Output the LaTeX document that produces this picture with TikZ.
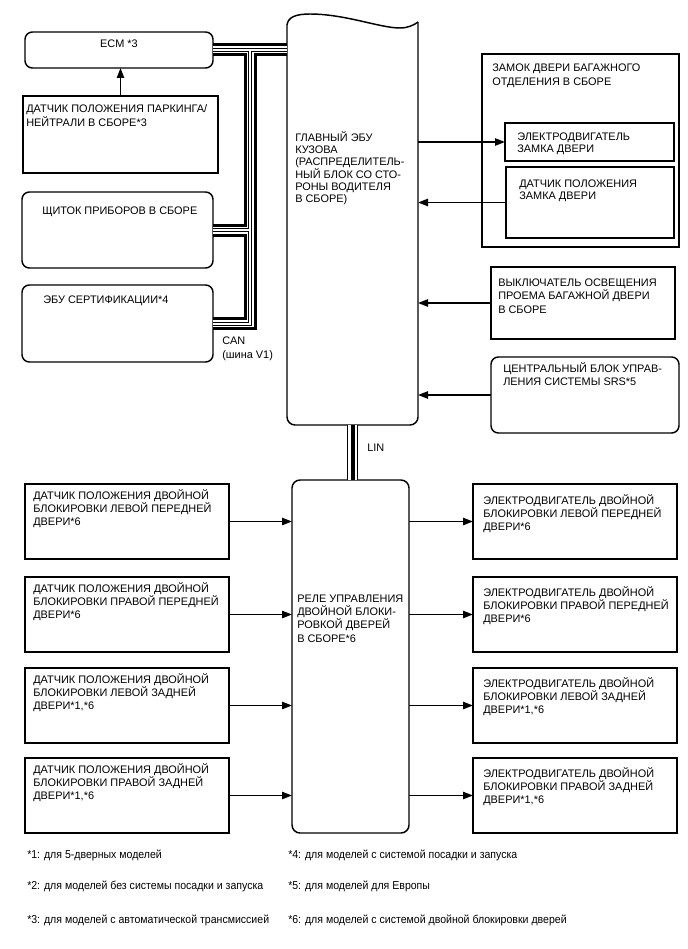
\documentclass[tikz,border=0pt]{standalone}
\usepackage{fontspec}
\setmainfont{Liberation Sans}
\newfontfamily\notefont[FakeStretch=0.92]{Liberation Sans}
\usetikzlibrary{arrows.meta,fit}
\newcommand\ml[2][10]{\parbox[t]{6cm}{\fontsize{8.2}{#1}\selectfont\raggedright #2}}
\begin{document}
\begin{tikzpicture}[x=0.75pt,y=-0.75pt,
  bx/.style={draw, line width=1.1pt, inner sep=0pt, outer sep=0pt},
  rbx/.style={bx, rounded corners=5.5pt},
  arr/.style={line width=1.1pt, -{Triangle[length=7.5pt,width=5.5pt]}},
  txt/.style={anchor=base west, inner sep=0pt, font=\fontsize{8.2}{10}\selectfont},
  note/.style={anchor=base west, inner sep=0pt, font=\notefont\fontsize{8.6}{10}\selectfont},
]
\useasboundingbox (0,0) rectangle (688,949);

% boxes
\node[rbx, fit={(25,32)(213,68)}] (ecm) {};
\node[bx, fit={(23,96)(218,173)}] (park) {};
\node[rbx, fit={(22,192)(213,268)}] (clu) {};
\node[rbx, fit={(22,285)(213,362)}] (cert) {};
\node[inner sep=0pt, outer sep=0pt, fit={(287,20)(418,425)}] (bcm) {};
\node[bx, fit={(482,54)(679,247)}] (trunk) {};
\node[bx, fit={(505,123)(674,161)}] (motor) {};
\node[bx, fit={(506,167)(674,238)}] (lsens) {};
\node[bx, fit={(491,267)(675,339)}] (sw) {};
\node[rbx, fit={(491,357)(679,433)}] (srs) {};
\node[rbx, rounded corners=6pt, fit={(292,480)(409,833)}] (relay) {};
\node[bx, fit={(25,484)(229,559)}] (l1) {};
\node[bx, fit={(25,577)(229,652)}] (l2) {};
\node[bx, fit={(25,668)(229,743)}] (l3) {};
\node[bx, fit={(25,758)(229,833)}] (l4) {};
\node[bx, fit={(473,484)(677,559)}] (r1) {};
\node[bx, fit={(473,577)(677,652)}] (r2) {};
\node[bx, fit={(473,668)(677,743)}] (r3) {};
\node[bx, fit={(473,758)(677,833)}] (r4) {};

% body ECU outline with torn top
\draw[line width=1.1pt, rounded corners=6pt] (287,25) -- (287,425) -- (418,425) -- (418,22);
\draw[line width=1.1pt] (287,25) .. controls (288,17) and (296,14) .. (310,14)
  .. controls (345,14) and (380,28) .. (400,28) .. controls (408,28) and (414,25) .. (418,22);

% CAN bus
\coordinate (canx) at (250,0);
\foreach \w/\c in {9.75pt/black, 5.25pt/white, 3pt/black, 1.5pt/white} {
  \draw[line width=\w, draw=\c, line join=miter] (ecm.east) -- (ecm.east -| bcm.west);
  \draw[line width=\w, draw=\c, line join=miter] (canx |- ecm.east) -- (canx |- cert.east) -- (cert.east);
  \draw[line width=\w, draw=\c, line join=miter] (canx |- clu.east) -- (clu.east);
}
% LIN bus
\foreach \w/\c in {8.25pt/black, 6.5pt/white, 3pt/black} {
  \draw[line width=\w, draw=\c] (bcm.south) -- (bcm.south |- relay.north);
}

% arrows
\draw[arr] (park.north) -- (park.north |- ecm.south);
\draw[arr] (bcm.east |- motor.west) -- (motor.west);
\draw[arr] (lsens.west) -- (lsens.west -| bcm.east);
\draw[arr] (sw.west) -- (sw.west -| bcm.east);
\draw[arr] (srs.west) -- (srs.west -| bcm.east);
\foreach \n in {l1,l2,l3,l4} { \draw[arr] (\n.east) -- (\n.east -| relay.west); }
\foreach \n in {r1,r2,r3,r4} { \draw[arr] (relay.east |- \n.west) -- (\n.west); }

% texts
\node[txt, anchor=base] (tecm) at (119,48) {ECM *3};
\node[txt] (tpark) at (26,113) {\ml[9]{ДАТЧИК ПОЛОЖЕНИЯ ПАРКИНГА/\\НЕЙТРАЛИ В СБОРЕ*3}};
\node[txt] (tclu) at (42,214) {ЩИТОК ПРИБОРОВ В СБОРЕ};
\node[txt] (tcert) at (43,303) {ЭБУ СЕРТИФИКАЦИИ*4};
\node[txt] (tcan) at (222,344) {\ml[10.5]{CAN\\(шина V1)}};
\node[txt] (tbcm) at (295,141) {\ml[9.3]{ГЛАВНЫЙ ЭБУ\\КУЗОВА\\(РАСПРЕДЕЛИТЕЛЬ-\\НЫЙ БЛОК СО СТО-\\РОНЫ ВОДИТЕЛЯ\\В СБОРЕ)}};
\node[txt] (ttrunk) at (492,71) {\ml[10.7]{ЗАМОК ДВЕРИ БАГАЖНОГО\\ОТДЕЛЕНИЯ В СБОРЕ}};
\node[txt] (tmotor) at (517,140) {\ml[9.2]{ЭЛЕКТРОДВИГАТЕЛЬ\\ЗАМКА ДВЕРИ}};
\node[txt] (tlsens) at (519,187) {\ml[9.2]{ДАТЧИК ПОЛОЖЕНИЯ\\ЗАМКА ДВЕРИ}};
\node[txt] (tsw) at (498,286) {\ml[10.3]{ВЫКЛЮЧАТЕЛЬ ОСВЕЩЕНИЯ\\ПРОЕМА БАГАЖНОЙ ДВЕРИ\\В СБОРЕ}};
\node[txt] (tsrs) at (503,372) {\ml{ЦЕНТРАЛЬНЫЙ БЛОК УПРАВ-\\ЛЕНИЯ СИСТЕМЫ SRS*5}};
\node[txt] (tlin) at (367,451) {LIN};
\node[txt] (trelay) at (297,602) {\ml{РЕЛЕ УПРАВЛЕНИЯ\\ДВОЙНОЙ БЛОКИ-\\РОВКОЙ ДВЕРЕЙ\\В СБОРЕ*6}};

\node[txt] (tl1) at (33,499) {\ml{ДАТЧИК ПОЛОЖЕНИЯ ДВОЙНОЙ\\БЛОКИРОВКИ ЛЕВОЙ ПЕРЕДНЕЙ\\ДВЕРИ*6}};
\node[txt] (tl2) at (33,592) {\ml{ДАТЧИК ПОЛОЖЕНИЯ ДВОЙНОЙ\\БЛОКИРОВКИ ПРАВОЙ ПЕРЕДНЕЙ\\ДВЕРИ*6}};
\node[txt] (tl3) at (33,683) {\ml{ДАТЧИК ПОЛОЖЕНИЯ ДВОЙНОЙ\\БЛОКИРОВКИ ЛЕВОЙ ЗАДНЕЙ\\ДВЕРИ*1,*6}};
\node[txt] (tl4) at (33,773) {\ml{ДАТЧИК ПОЛОЖЕНИЯ ДВОЙНОЙ\\БЛОКИРОВКИ ПРАВОЙ ЗАДНЕЙ\\ДВЕРИ*1,*6}};
\node[txt] (tr1) at (483,504) {\ml{ЭЛЕКТРОДВИГАТЕЛЬ ДВОЙНОЙ\\БЛОКИРОВКИ ЛЕВОЙ ПЕРЕДНЕЙ\\ДВЕРИ*6}};
\node[txt] (tr2) at (483,596) {\ml{ЭЛЕКТРОДВИГАТЕЛЬ ДВОЙНОЙ\\БЛОКИРОВКИ ПРАВОЙ ПЕРЕДНЕЙ\\ДВЕРИ*6}};
\node[txt] (tr3) at (483,687) {\ml{ЭЛЕКТРОДВИГАТЕЛЬ ДВОЙНОЙ\\БЛОКИРОВКИ ЛЕВОЙ ЗАДНЕЙ\\ДВЕРИ*1,*6}};
\node[txt] (tr4) at (483,777) {\ml{ЭЛЕКТРОДВИГАТЕЛЬ ДВОЙНОЙ\\БЛОКИРОВКИ ПРАВОЙ ЗАДНЕЙ\\ДВЕРИ*1,*6}};

% footnotes
\node[note] (n1) at (27,858) {*1: для 5-дверных моделей};
\node[note] (n2) at (27,889) {*2: для моделей без системы посадки и запуска};
\node[note] (n3) at (27,923) {*3: для моделей с автоматической трансмиссией};
\node[note] (n4) at (288,858) {*4: для моделей с системой посадки и запуска};
\node[note] (n5) at (288,889) {*5: для моделей для Европы};
\node[note] (n6) at (288,923) {*6: для моделей с системой двойной блокировки дверей};
\end{tikzpicture}
\end{document}
